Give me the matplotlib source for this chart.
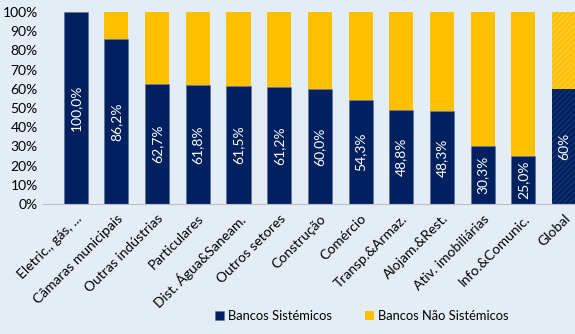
import numpy as np
import matplotlib
matplotlib.use("Agg")
import matplotlib.pyplot as plt

plt.rcParams['font.family'] = ['Lato', 'DejaVu Sans']
plt.rcParams['hatch.linewidth'] = 0.6

# Setores e quota dos bancos sistémicos (%)
setores = ['Eletric., gás, ...', 'Câmaras municipais', 'Outras indústrias', 'Particulares',
           'Dist. Água&Saneam.', 'Outros setores', 'Construção', 'Comércio',
           'Transp.&Armaz.', 'Alojam.&Rest.', 'Ativ. imobiliárias', 'Info.&Comunic.', 'Global']
sistemicos = [100.0, 86.2, 62.7, 61.8, 61.5, 61.2, 60.0, 54.3, 48.8, 48.3, 30.3, 25.0, 60.0]
rotulos = ['100,0%', '86,2%', '62,7%', '61,8%', '61,5%', '61,2%', '60,0%', '54,3%',
           '48,8%', '48,3%', '30,3%', '25,0%', '60%']
nao_sistemicos = [100 - v for v in sistemicos]

cor = ["#002060", "#FFC000"]
fundo = "#E4ECF5"

fig = plt.figure(figsize=(5.75, 3.34), dpi=100, facecolor=fundo)
ax = fig.add_axes([0.073, 0.389, 0.927, 0.575], facecolor=fundo)

x = np.arange(len(setores))
largura = 0.59
n = len(setores) - 1

# Setores
ax.bar(x[:n], sistemicos[:n], width=largura, color=cor[0], edgecolor='#5A6E96', linewidth=0.4,
       label='Bancos Sistémicos')
ax.bar(x[:n], nao_sistemicos[:n], bottom=sistemicos[:n], width=largura, color=cor[1],
       edgecolor='none', linewidth=0, label='Bancos Não Sistémicos')

# Global com tracejado
ax.bar(x[n], sistemicos[n], width=largura, color=cor[0], edgecolor='#23407A', linewidth=0,
       hatch='//////')
ax.bar(x[n], nao_sistemicos[n], bottom=sistemicos[n], width=largura, color=cor[1],
       edgecolor='#FFD35C', linewidth=0, hatch='//////')

# Rótulos dentro das barras
for xi, v, r in zip(x, sistemicos, rotulos):
    ax.text(xi, v / 2, r, rotation=90, ha='center', va='center', color='white', fontsize=10)

ax.set_xlim(-0.83, 12.27)
ax.set_ylim(0, 100)
ax.set_yticks(np.arange(0, 101, 10))
ax.set_yticklabels([f'{v}%' for v in range(0, 101, 10)], fontsize=10)
ax.set_xticks(x)
ax.set_xticklabels(setores, rotation=45, ha='right', rotation_mode='anchor', fontsize=10)
ax.tick_params(length=0, pad=3)
ax.tick_params(axis='x', pad=6)

for s in ['top', 'right', 'left']:
    ax.spines[s].set_visible(False)
ax.spines['bottom'].set_color('#BFBFBF')

# Legenda
fig.legend(loc='lower right', bbox_to_anchor=(0.905, 0.0), ncol=2, frameon=False, fontsize=9.3,
           handlelength=0.7, handleheight=0.7, handletextpad=0.3, columnspacing=2.6)

plt.savefig('out.png', dpi=100, facecolor=fundo)
